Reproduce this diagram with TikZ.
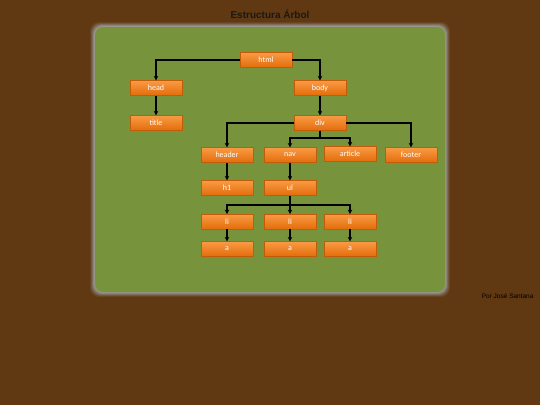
\documentclass[tikz,border=0pt]{standalone}
\usepackage{fontspec}
\setmainfont{Liberation Sans}
\newfontfamily\boxfont{Carlito}
\usetikzlibrary{arrows.meta}
\usetikzlibrary{shadows}
\definecolor{bark}{HTML}{603811}
\definecolor{leaf}{HTML}{77933C}
\definecolor{tagtop}{HTML}{F99B45}
\definecolor{tagbot}{HTML}{E36C0A}

\begin{document}
\begin{tikzpicture}[x=1pt,y=-1pt,>={Stealth[length=4.5pt,width=4.5pt]},
tag/.style={rectangle,minimum width=52pt,minimum height=15pt,inner sep=0pt,
  top color=tagtop,bottom color=tagbot,draw=tagbot!85!black,very thin,
  text=white,font=\boxfont\fontsize{8}{9}\selectfont,
  drop shadow={shadow xshift=0.6pt,shadow yshift=-0.8pt,opacity=0.35}},
link/.style={->,line width=1.3pt,black}]
% The background
\fill[bark] (0,0) rectangle (540,405);
\useasboundingbox (0,0) rectangle (540,405);
% The glow round the panel
\foreach \w/\o in {5/0.12,4/0.2,3/0.3,2/0.45,1/0.6}
{
  \fill[gray!75,opacity=\o,rounded corners=9pt] (95-\w,27-\w) rectangle (445+\w,292+\w);
}
\fill[leaf,rounded corners=8pt] (95,27) rectangle (445,292);

% The texts
\node[font=\bfseries\fontsize{10}{12}\selectfont,text=black!90] (banner) at (270,14) {Estructura Árbol};
\node[font=\fontsize{6.5}{8}\selectfont,text=black,anchor=east] (credit) at (537,296.5) {Por José Santana};

% The boxes
\node[tag] (html) at (266,60) {html};
\node[tag] (head) at (156,88) {head};
\node[tag] (body) at (320,88) {body};
\node[tag] (titletag) at (156,123) {title};
\node[tag] (div) at (320,123) {div};
\node[tag] (header) at (227,155) {header};
\node[tag] (nav) at (290,155) {nav};
\node[tag] (article) at (350,154) {article};
\node[tag] (footer) at (411,155) {footer};
\node[tag] (h1) at (227,188) {h1};
\node[tag] (ul) at (290,188) {ul};
\foreach \n/\xx in {1/227,2/290,3/350}
{
  \node[tag] (li\n) at (\xx,221.7) {li};
  \node[tag] (a\n) at (\xx,249) {a};
}

% The links
\draw[link] (html.west) -| (head.north);
\draw[link] (html.east) -| (body.north);
\draw[link] (head) -- (titletag);
\draw[link] (body) -- (div);
\draw[link] (div.west) -| (header.north);
\draw[link] (div.east) -| (footer.north);
\draw[link] (div.south) -- ++(0,7.5) -| (nav.north);
\draw[link] (div.south) -- ++(0,7.5) -| (article.north);
\draw[link] (header) -- (h1);
\draw[link] (nav) -- (ul);
\foreach \n in {1,2,3}
{
  \draw[link] (ul.south) -- ++(0,9.3) -| (li\n.north);
  \draw[link] (li\n) -- (a\n);
}
\end{tikzpicture}
\end{document}
